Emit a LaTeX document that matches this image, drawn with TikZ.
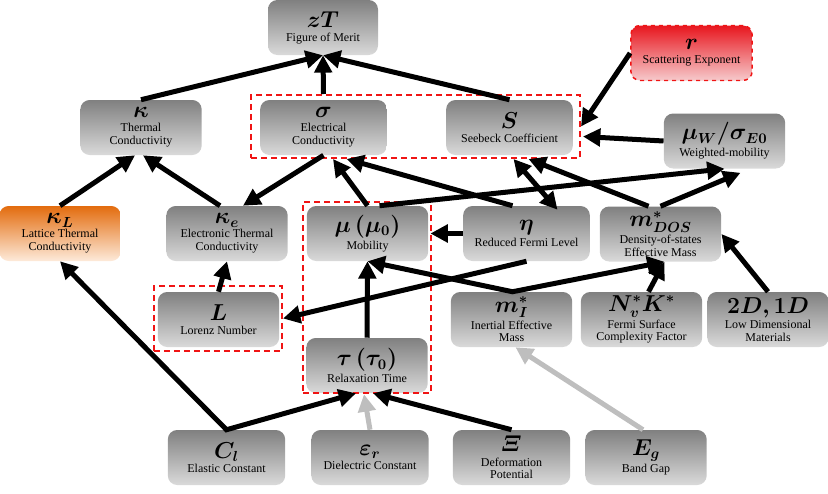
\documentclass[tikz,border=0pt]{standalone}
\usepackage{amsmath,bm}
\usepackage{fontspec}
\setmainfont{Liberation Serif}
\usetikzlibrary{arrows.meta,calc,fit}
\definecolor{boxtop}{RGB}{128,128,128}
\definecolor{boxbot}{RGB}{218,218,218}
\definecolor{redtop}{RGB}{232,22,30}
\definecolor{redbot}{RGB}{246,202,204}
\definecolor{orgtop}{RGB}{227,108,14}
\definecolor{orgbot}{RGB}{253,234,218}
\definecolor{grayarrow}{RGB}{190,190,190}
\definecolor{dashred}{RGB}{240,20,20}
\newcommand{\bxt}[2]{{\fontsize{16}{17}\selectfont$\bm{#1}$}\\[1pt]#2}
\tikzset{
  box/.style={rounded corners=7pt, minimum width=91pt, minimum height=41.25pt,
    top color=boxtop, bottom color=boxbot, align=center, inner sep=1pt,
    font=\fontsize{9}{9.6}\selectfont},
  wide/.style={minimum width=95pt},
  narrow/.style={minimum width=88pt},
  rbox/.style={box, top color=redtop, bottom color=redbot, draw=dashred,
    dashed, line width=1.1pt},
  obox/.style={box, top color=orgtop, bottom color=orgbot},
  redgrp/.style={draw=dashred, dash pattern=on 4.5pt off 3pt, line width=1.5pt, inner sep=0pt},
  arr/.style={draw=black, line width=3.75pt, -{Triangle[length=13pt,width=13pt]}},
  darr/.style={draw=black, line width=3.75pt, {Triangle[length=13pt,width=13pt]}-{Triangle[length=13pt,width=13pt]}},
  garr/.style={draw=grayarrow, line width=3.75pt, -{Triangle[length=13pt,width=13pt]}},
}
\begin{document}
\begin{tikzpicture}[x=0.75pt,y=-0.75pt]
\useasboundingbox (0,0) rectangle (828,493);
% nodes
\node[box, minimum width=82.5pt] (zT) at (323,27.5) {\bxt{zT}{Figure of Merit}};
\node[rbox] (r) at (691.5,53) {\bxt{r}{Scattering Exponent}};
\node[box] (kappa) at (141,127.5) {\bxt{\kappa}{Thermal\\Conductivity}};
\node[box, wide] (sigma) at (323.5,127.5) {\bxt{\sigma}{Electrical\\Conductivity}};
\node[box, wide] (S) at (509.5,127.5) {\bxt{S}{Seebeck Coefficient}};
\node[box] (muW) at (724.5,141) {\bxt{\mu_W/\sigma_{E0}}{Weighted-mobility}};
\node[obox] (kL) at (60,233.5) {\bxt{\kappa_L}{Lattice Thermal\\Conductivity}};
\node[box] (ke) at (227,233.5) {\bxt{\kappa_e}{Electronic Thermal\\Conductivity}};
\node[box] (mu) at (367.5,233.5) {\bxt{\mu\,(\mu_0)}{Mobility}};
\node[box, wide] (eta) at (526.5,233.5) {\bxt{\eta}{Reduced Fermi Level}};
\node[box] (mDOS) at (660.5,234) {\bxt{m^*_{DOS}}{Density-of-states\\Effective Mass}};
\node[box] (L) at (218.5,319.5) {\bxt{L}{Lorenz Number}};
\node[box] (mI) at (511.5,319.5) {\bxt{m^*_I}{Inertial Effective\\Mass}};
\node[box] (NK) at (641.5,319.5) {\bxt{N^*_vK^*}{Fermi Surface\\Complexity Factor}};
\node[box] (D21) at (768,319.5) {\bxt{2D,1D}{Low Dimensional\\Materials}};
\node[box] (tau) at (367,365.5) {\bxt{\tau\,(\tau_0)}{Relaxation Time}};
\node[box, narrow] (Cl) at (226.5,457.5) {\bxt{C_l}{Elastic Constant}};
\node[box, narrow] (er) at (370,457.5) {\bxt{\varepsilon_r}{Dielectric Constant}};
\node[box, narrow] (Xi) at (511.5,457.5) {\bxt{\varXi}{Deformation\\Potential}};
\node[box] (Eg) at (646,457.5) {\bxt{E_g}{Band Gap}};
% red dashed groups
\node[redgrp, fit={(251,95) (580,158)}] (grpSS) {};
\node[redgrp, fit={(303,202) (431,393)}] (grpMT) {};
\node[redgrp, fit={(154,286) (282,351)}] (grpL) {};
% connectors
\draw[arr] (kappa.north) -- (zT.south);
\draw[arr] (sigma.north |- grpSS.north) -- (zT.south);
\draw[arr] (S.north) -- (zT.south);
\draw[arr] (r.west) -- (grpSS.east);
\draw[arr] (muW.west) -- ($(grpSS.east)+(2,10)$);
\draw[arr] (kL.north) -- ($(kappa.south)+(-6,0)$);
\draw[arr] ($(ke.north)+(-7,0)$) -- ($(kappa.south)+(2,0)$);
\draw[arr] (sigma.south) -- ($(ke.north)+(16,0)$);
\draw[arr] (mu.north) -- ($(sigma.south |- grpSS.south)+(9.5,0)$);
\draw[arr] ($(eta.north)+(-14,0)$) -- ($(sigma.south |- grpSS.south)+(23,0)$);
\draw[arr] ($(mu.north)+(12,0)$) -- (muW.south);
\draw[darr] ($(S.south |- grpSS.south)+(4,0)$) -- ($(eta.north)+(31,4)$);
\draw[arr] ($(mDOS.north)+(-12,0)$) -- ($(S.south |- grpSS.south)+(19,0)$);
\draw[arr] (mDOS.north) -- ($(muW.south)+(16,4)$);
\draw[arr] (eta.west) -- ($(mu.east)+(2,0)$);
\draw[arr] (eta.south) -- (grpL.east);
\draw[darr, line join=miter] (mu.south) -- ($(mI.north)+(1,0)$) -- ($(mDOS.south)+(4,0)$);
\draw[arr] ($(NK.north)+(7,0)$) -- ($(mDOS.south)+(4,0)$);
\draw[arr] (D21.north) -- (mDOS.east);
\draw[arr] (L.north) -- (ke.south);
\draw[arr] (tau.north) -- (mu.south);
\draw[darr, line join=miter] (kL.south) -- (Cl.north) -- ($(tau.south)+(-11,0)$);
\draw[garr] (er.north) -- ($(tau.south)+(-3,1)$);
\draw[arr] (Xi.north) -- ($(tau.south)+(6,0)$);
\draw[garr] ($(Eg.north)+(-3,0)$) -- ($(mI.south)+(4,0)$);
\end{tikzpicture}
\end{document}
